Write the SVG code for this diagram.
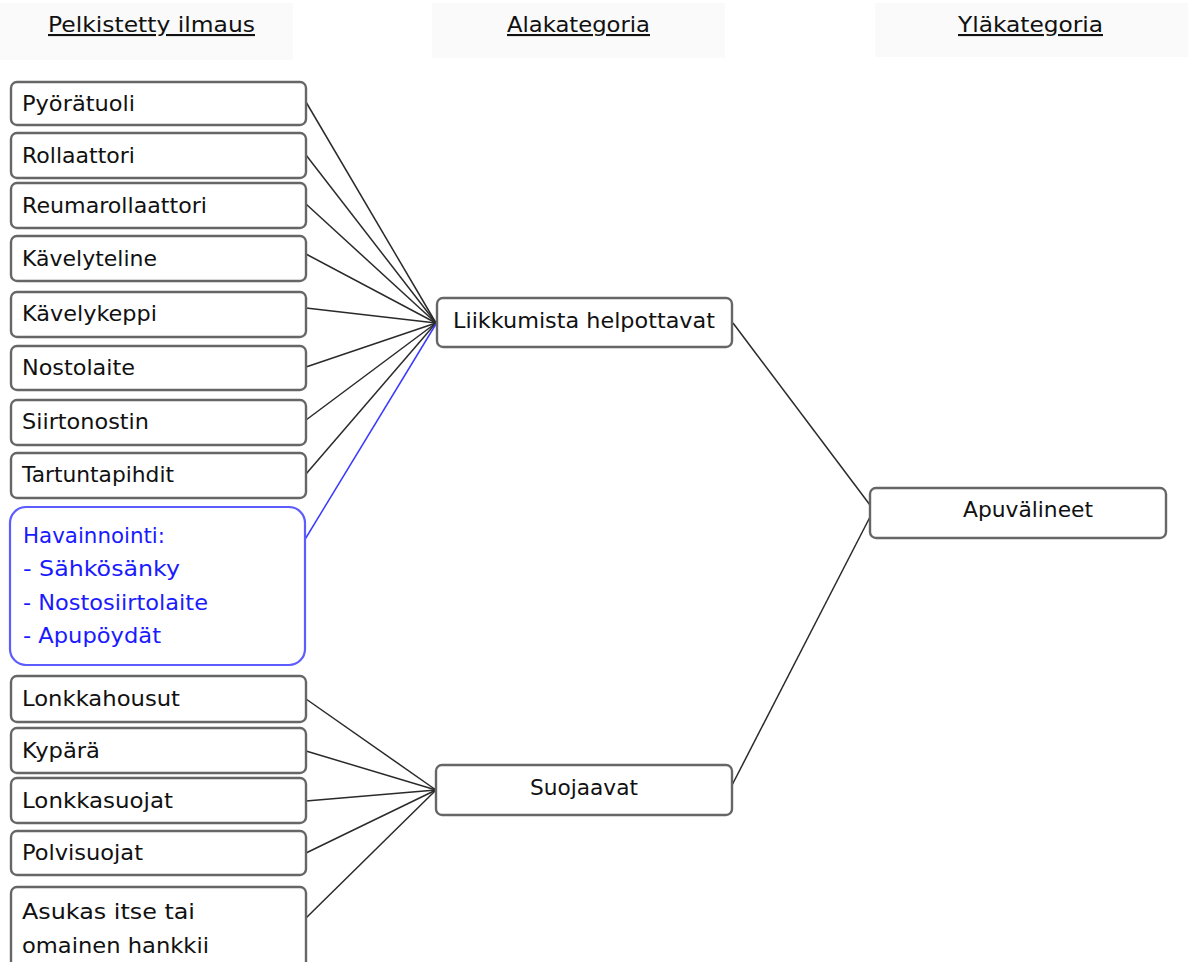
<svg xmlns="http://www.w3.org/2000/svg" width="1193" height="962" viewBox="0 0 1193 962">
  <style>
    .hdr-bg { fill: #fafafa; }
    .hdr { font-family: "DejaVu Sans", sans-serif; font-size: 21px; fill: #111; text-decoration: underline; }
    .box { fill: #ffffff; stroke: #666666; stroke-width: 2.4; }
    .obs { fill: #ffffff; stroke: #5c5cff; stroke-width: 2.2; }
    .lbl { font-family: "DejaVu Sans", sans-serif; font-size: 22px; fill: #111; }
    .lbl-blue { font-family: "DejaVu Sans", sans-serif; font-size: 22px; fill: #1a1aff; }
    .link { stroke: #2a2a2a; stroke-width: 1.5; fill: none; }
    .link-blue { stroke: #3a3aff; stroke-width: 1.5; fill: none; }
  </style>

  <rect width="1193" height="962" fill="#ffffff"/>

  <!-- column headings -->
  <g id="headers">
    <rect class="hdr-bg" x="0" y="3" width="293" height="57"/>
    <rect class="hdr-bg" x="432" y="3" width="293" height="55"/>
    <rect class="hdr-bg" x="875" y="3" width="313" height="54"/>
    <text class="hdr" x="48" y="32" textLength="207" lengthAdjust="spacingAndGlyphs">Pelkistetty ilmaus</text>
    <text class="hdr" x="507" y="32" textLength="143" lengthAdjust="spacingAndGlyphs">Alakategoria</text>
    <text class="hdr" x="958" y="32" textLength="145" lengthAdjust="spacingAndGlyphs">Yläkategoria</text>
  </g>

  <!-- connectors -->
  <g id="connectors">
    <line class="link" x1="306" y1="102" x2="436" y2="323"/>
    <line class="link" x1="306" y1="155" x2="436" y2="323"/>
    <line class="link" x1="306" y1="204" x2="436" y2="323"/>
    <line class="link" x1="306" y1="254" x2="436" y2="323"/>
    <line class="link" x1="306" y1="308" x2="436" y2="323"/>
    <line class="link" x1="306" y1="367" x2="436" y2="323"/>
    <line class="link" x1="306" y1="420" x2="436" y2="323"/>
    <line class="link" x1="306" y1="474" x2="436" y2="323"/>
    <line class="link-blue" x1="304" y1="541" x2="436" y2="324"/>
    <line class="link" x1="306" y1="699" x2="436" y2="790"/>
    <line class="link" x1="306" y1="751" x2="436" y2="790"/>
    <line class="link" x1="306" y1="801" x2="436" y2="790"/>
    <line class="link" x1="306" y1="853" x2="436" y2="790"/>
    <line class="link" x1="306" y1="918" x2="436" y2="790"/>
    <line class="link" x1="733" y1="323" x2="870" y2="505"/>
    <line class="link" x1="870" y1="517" x2="729" y2="791"/>
  </g>

  <!-- simplified expressions -->
  <g id="n-pyoratuoli">
    <rect class="box" x="11" y="82" width="295" height="43" rx="6"/>
    <text class="lbl" x="22" y="111" textLength="113" lengthAdjust="spacingAndGlyphs">Pyörätuoli</text>
  </g>
  <g id="n-rollaattori">
    <rect class="box" x="11" y="133" width="295" height="45" rx="6"/>
    <text class="lbl" x="22" y="163" textLength="113" lengthAdjust="spacingAndGlyphs">Rollaattori</text>
  </g>
  <g id="n-reumarollaattori">
    <rect class="box" x="11" y="183" width="295" height="45" rx="6"/>
    <text class="lbl" x="22" y="213" textLength="185" lengthAdjust="spacingAndGlyphs">Reumarollaattori</text>
  </g>
  <g id="n-kavelyteline">
    <rect class="box" x="11" y="236" width="295" height="45" rx="6"/>
    <text class="lbl" x="22" y="266" textLength="135" lengthAdjust="spacingAndGlyphs">Kävelyteline</text>
  </g>
  <g id="n-kavelykeppi">
    <rect class="box" x="11" y="292" width="295" height="45" rx="6"/>
    <text class="lbl" x="22" y="321" textLength="135" lengthAdjust="spacingAndGlyphs">Kävelykeppi</text>
  </g>
  <g id="n-nostolaite">
    <rect class="box" x="11" y="346" width="295" height="44" rx="6"/>
    <text class="lbl" x="22" y="375" textLength="113" lengthAdjust="spacingAndGlyphs">Nostolaite</text>
  </g>
  <g id="n-siirtonostin">
    <rect class="box" x="11" y="400" width="295" height="45" rx="6"/>
    <text class="lbl" x="22" y="429" textLength="127" lengthAdjust="spacingAndGlyphs">Siirtonostin</text>
  </g>
  <g id="n-tartuntapihdit">
    <rect class="box" x="11" y="453" width="295" height="45" rx="6"/>
    <text class="lbl" x="22" y="482" textLength="152" lengthAdjust="spacingAndGlyphs">Tartuntapihdit</text>
  </g>
  <g id="n-havainnointi">
    <rect class="obs" x="10" y="507" width="295" height="158" rx="16"/>
    <text class="lbl-blue" x="23" y="543" textLength="142" lengthAdjust="spacingAndGlyphs">Havainnointi:</text>
    <text class="lbl-blue" x="23" y="576" textLength="157" lengthAdjust="spacingAndGlyphs">- Sähkösänky</text>
    <text class="lbl-blue" x="23" y="610" textLength="185" lengthAdjust="spacingAndGlyphs">- Nostosiirtolaite</text>
    <text class="lbl-blue" x="23" y="643" textLength="138" lengthAdjust="spacingAndGlyphs">- Apupöydät</text>
  </g>
  <g id="n-lonkkahousut">
    <rect class="box" x="11" y="676" width="295" height="46" rx="6"/>
    <text class="lbl" x="22" y="706" textLength="158" lengthAdjust="spacingAndGlyphs">Lonkkahousut</text>
  </g>
  <g id="n-kypara">
    <rect class="box" x="11" y="728" width="295" height="45" rx="6"/>
    <text class="lbl" x="22" y="758" textLength="78" lengthAdjust="spacingAndGlyphs">Kypärä</text>
  </g>
  <g id="n-lonkkasuojat">
    <rect class="box" x="11" y="778" width="295" height="45" rx="6"/>
    <text class="lbl" x="22" y="808" textLength="151" lengthAdjust="spacingAndGlyphs">Lonkkasuojat</text>
  </g>
  <g id="n-polvisuojat">
    <rect class="box" x="11" y="831" width="295" height="44" rx="6"/>
    <text class="lbl" x="22" y="860" textLength="121" lengthAdjust="spacingAndGlyphs">Polvisuojat</text>
  </g>
  <g id="n-asukas">
    <rect class="box" x="11" y="887" width="295" height="80" rx="6"/>
    <text class="lbl" x="22" y="919" textLength="173" lengthAdjust="spacingAndGlyphs">Asukas itse tai</text>
    <text class="lbl" x="22" y="953" textLength="187" lengthAdjust="spacingAndGlyphs">omainen hankkii</text>
  </g>

  <!-- subcategories -->
  <g id="n-liikkumista">
    <rect class="box" x="437" y="298" width="295" height="49" rx="6"/>
    <text class="lbl" x="453" y="328" textLength="262" lengthAdjust="spacingAndGlyphs">Liikkumista helpottavat</text>
  </g>
  <g id="n-suojaavat">
    <rect class="box" x="436" y="765" width="296" height="50" rx="6"/>
    <text class="lbl" x="530" y="795" textLength="108" lengthAdjust="spacingAndGlyphs">Suojaavat</text>
  </g>

  <!-- main category -->
  <g id="n-apuvalineet">
    <rect class="box" x="870" y="488" width="296" height="50" rx="6"/>
    <text class="lbl" x="963" y="517" textLength="130" lengthAdjust="spacingAndGlyphs">Apuvälineet</text>
  </g>
</svg>
